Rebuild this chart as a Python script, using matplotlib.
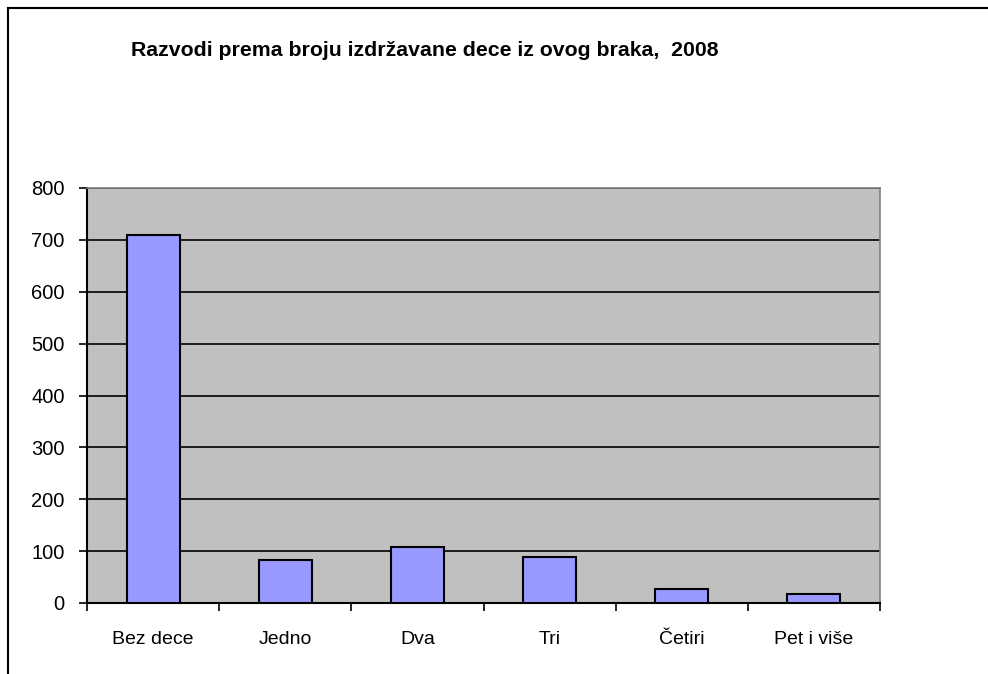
import matplotlib
matplotlib.use('Agg')
import matplotlib.pyplot as plt
from matplotlib.lines import Line2D
import numpy as np

# Podaci
kategorije = ['Bez dece', 'Jedno', 'Dva', 'Tri', 'Četiri', 'Pet i više']
razvodi = [709, 83, 107, 89, 27, 17]
y_ticks = [0, 100, 200, 300, 400, 500, 600, 700, 800]

plt.rcParams['font.family'] = ['Liberation Sans', 'DejaVu Sans']

W, H = 988, 674
fig = plt.figure(figsize=(W / 100, H / 100), dpi=100)
fig.patch.set_facecolor('white')

# oblast grafika (pikseli: x 87..880, y 188..603)
ax = fig.add_axes([87 / W, 1 - 603 / H, (880 - 87) / W, (603 - 188) / H])
ax.set_facecolor('#C0C0C0')

x = np.arange(len(kategorije))
ax.bar(x, razvodi, width=0.4, color='#9999FF', edgecolor='black', linewidth=1.5, zorder=3)

ax.set_xlim(-0.5, len(kategorije) - 0.5)
ax.set_ylim(0, 800)
ax.set_yticks(y_ticks)
ax.set_yticklabels([str(v) for v in y_ticks], fontsize=14.5)
ax.yaxis.grid(True, color='black', linewidth=1.2, zorder=1)
ax.set_axisbelow(True)

ax.set_xticks(x)
ax.set_xticklabels(kategorije, fontsize=14)
ax.tick_params(axis='x', length=0, pad=20)
ax.set_xticks(np.arange(-0.5, len(kategorije)), minor=True)
ax.tick_params(axis='x', which='minor', length=6, width=1.2, direction='out')
ax.tick_params(axis='y', length=6, width=1.2, direction='out', pad=10)

for s in ['left', 'bottom']:
    ax.spines[s].set_color('black')
    ax.spines[s].set_linewidth(1.5)
for s in ['top', 'right']:
    ax.spines[s].set_color('#808080')
    ax.spines[s].set_linewidth(1.2)

fig.text(425 / W, 1 - 50 / H, 'Razvodi prema broju izdržavane dece iz ovog braka,  2008',
         ha='center', va='center', fontsize=15.3, fontweight='bold')

# okvir (samo gornja i leva ivica)
fig.add_artist(Line2D([8 / W, 1], [1 - 8 / H, 1 - 8 / H], color='black', linewidth=1.5))
fig.add_artist(Line2D([8 / W, 8 / W], [1 - 8 / H, 0], color='black', linewidth=1.5))

fig.savefig('out.png', dpi=100)
